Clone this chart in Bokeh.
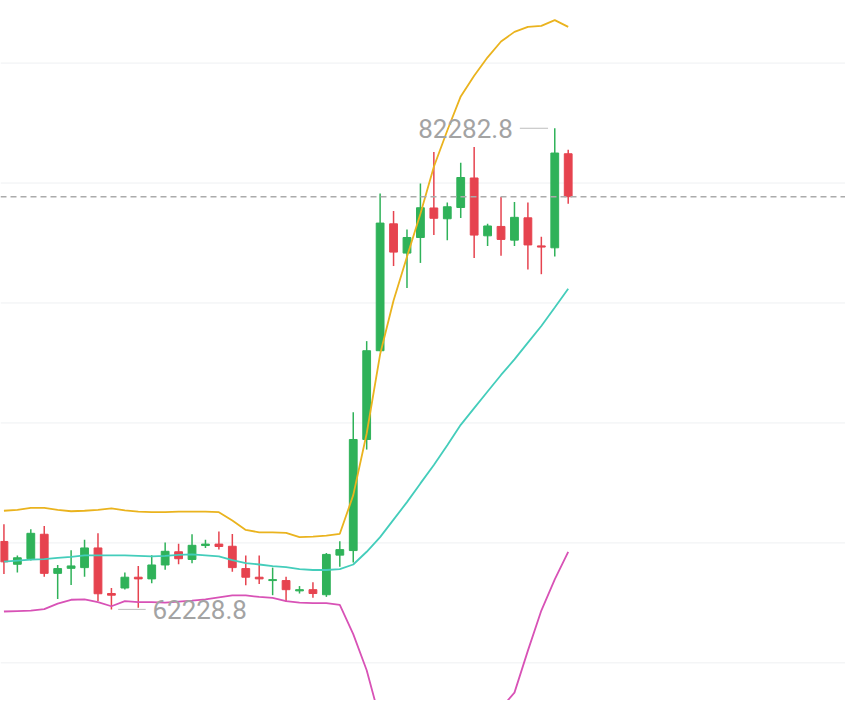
from bokeh.plotting import figure
from bokeh.models import ColumnDataSource, Span, Range1d
from bokeh.embed import file_html
from bokeh.resources import INLINE
from bokeh.core.properties import value

# ---- candle data (price) ----
opens = [65060, 64110, 64340, 65360, 63730, 63940, 63970, 64790, 62890, 63120,
         63570, 63500, 64080, 64630, 64310, 64890, 64950, 64860, 63930, 63570,
         63430, 63430, 63000, 63050, 62840, 64490, 64680, 69310, 73010, 78300,
         77080, 77730, 78960, 78510, 78980, 80210, 77800, 78190, 77620, 78550,
         77380, 77300, 81220]
highs = [65780, 64470, 65570, 65700, 64080, 64690, 65130, 65400, 63120, 63770,
         64040, 64490, 65020, 64960, 65360, 65130, 65470, 65370, 64470, 64470,
         63970, 63590, 63200, 63360, 64580, 65070, 70450, 73410, 79560, 78830,
         78060, 79980, 81290, 79190, 80840, 81500, 78300, 79420, 79210, 79190,
         77760, 82282.8, 81390]
lows = [63700, 63770, 64270, 63590, 62660, 63250, 63590, 62580, 62228.8, 63060,
        62300, 63320, 63880, 64110, 64150, 64790, 64720, 63800, 63230, 63290,
        62820, 62550, 62890, 62710, 62750, 64010, 64180, 68890, 72990, 76540,
        75620, 76670, 77830, 77620, 78540, 76880, 77380, 76970, 77380, 76400,
        76200, 76940, 79140]
closes = [64210, 64380, 65400, 63730, 63930, 64040, 64790, 62880, 62820, 63570,
          63500, 64080, 64650, 64340, 64900, 64950, 64850, 63970, 63570, 63500,
          63470, 63050, 63050, 62890, 64520, 64720, 69310, 73010, 78330, 77120,
          77730, 78970, 78530, 79010, 80230, 77830, 78210, 77650, 78570, 77420,
          77330, 81250, 79430]

# ---- Bollinger bands ----
upper = [66340, 66380, 66460, 66460, 66380, 66320, 66340, 66380, 66440, 66360,
         66300, 66280, 66280, 66300, 66300, 66300, 66280, 65930, 65540, 65440,
         65440, 65420, 65240, 65260, 65300, 65380, 66990, 69560, 72860, 75100,
         76930, 78720, 80680, 82190, 83610, 84470, 85240, 85900, 86300, 86510,
         86550, 86790, 86510]
middle = [64220, 64260, 64300, 64320, 64380, 64420, 64480, 64480, 64480, 64480,
          64460, 64440, 64460, 64500, 64520, 64480, 64440, 64280, 64160, 64100,
          64030, 63990, 63910, 63870, 63870, 63910, 64100, 64630, 65240, 65970,
          66700, 67480, 68250, 69070, 69920, 70620, 71310, 72000, 72650, 73350,
          74040, 74810, 75590]
lower = [62140, 62160, 62180, 62240, 62470, 62630, 62650, 62530, 62360, 62570,
         62530, 62530, 62510, 62550, 62590, 62650, 62730, 62810, 62810, 62750,
         62710, 62570, 62510, 62490, 62490, 62420, 61200, 59690, 57620, 56760,
         56480, 56230, 55820, 55950, 56230, 56720, 57370, 58110, 58760, 60510,
         62180, 63480, 64630]

grid_levels = [60000, 65000, 70000, 75000, 80000, 85000]
high_label = "82282.8"
low_label = "62228.8"

# ---- styles ----
UP = "#2FB259"
DOWN = "#E6434F"
C_UP_BAND = "#EAB31E"
C_MID_BAND = "#44CDBB"
C_LOW_BAND = "#D852B6"
C_LABEL = "#A3A3A3"

idx = list(range(len(opens)))
colors = [UP if c >= o else DOWN for o, c in zip(opens, closes)]
src = ColumnDataSource(dict(
    x=idx, o=opens, h=highs, l=lows, c=closes,
    top=[max(o, c) for o, c in zip(opens, closes)],
    bot=[min(o, c) for o, c in zip(opens, closes)],
    color=colors, up=upper, mid=middle, lo=lower,
))

p = figure(width=845, height=700, output_backend="svg", toolbar_location=None,
           x_axis_type=None, y_axis_type=None,
           x_range=Range1d(-0.256, 62.64), y_range=Range1d(58431, 87608),
           min_border=0, background_fill_color="white",
           border_fill_color="white")
p.outline_line_color = None

for g in grid_levels:
    p.add_layout(Span(location=g, dimension="width", line_color="#EEF0F2",
                      line_width=1, level="underlay"))

p.segment(x0="x", y0="h", x1="x", y1="l", source=src, line_color="color",
          line_width=1.5)
p.vbar(x="x", width=0.58, top="top", bottom="bot", source=src,
       fill_color="color", line_color="color", line_width=1)

p.line("x", "up", source=src, line_color=C_UP_BAND, line_width=1.8)
p.line("x", "mid", source=src, line_color=C_MID_BAND, line_width=1.8)
p.line("x", "lo", source=src, line_color=C_LOW_BAND, line_width=1.8)

# last price dashed line
p.add_layout(Span(location=closes[-1], dimension="width", line_color="#ABABAB",
                  line_width=1.5, line_dash="6 4"))

# high / low markers
hi_i = max(idx, key=lambda i: highs[i])
lo_i = min(idx, key=lambda i: lows[i])
p.segment(x0=[hi_i - 2.6], y0=[highs[hi_i]], x1=[hi_i - 0.5], y1=[highs[hi_i]],
          line_color="#BDBDBD", line_width=1)
p.segment(x0=[lo_i + 0.5], y0=[lows[lo_i]], x1=[lo_i + 2.55], y1=[lows[lo_i]],
          line_color="#BDBDBD", line_width=1)
p.text(x=[hi_i], y=[highs[hi_i]], text=[high_label], x_offset=-42,
       text_align="right", text_baseline="middle", text_color=C_LABEL,
       text_font=value("Roboto"), text_font_size="26px")
p.text(x=[lo_i], y=[lows[lo_i]], text=[low_label], x_offset=41,
       text_align="left", text_baseline="middle", text_color=C_LABEL,
       text_font=value("Roboto"), text_font_size="26px")

open("out.html", "w").write(file_html(p, INLINE))
